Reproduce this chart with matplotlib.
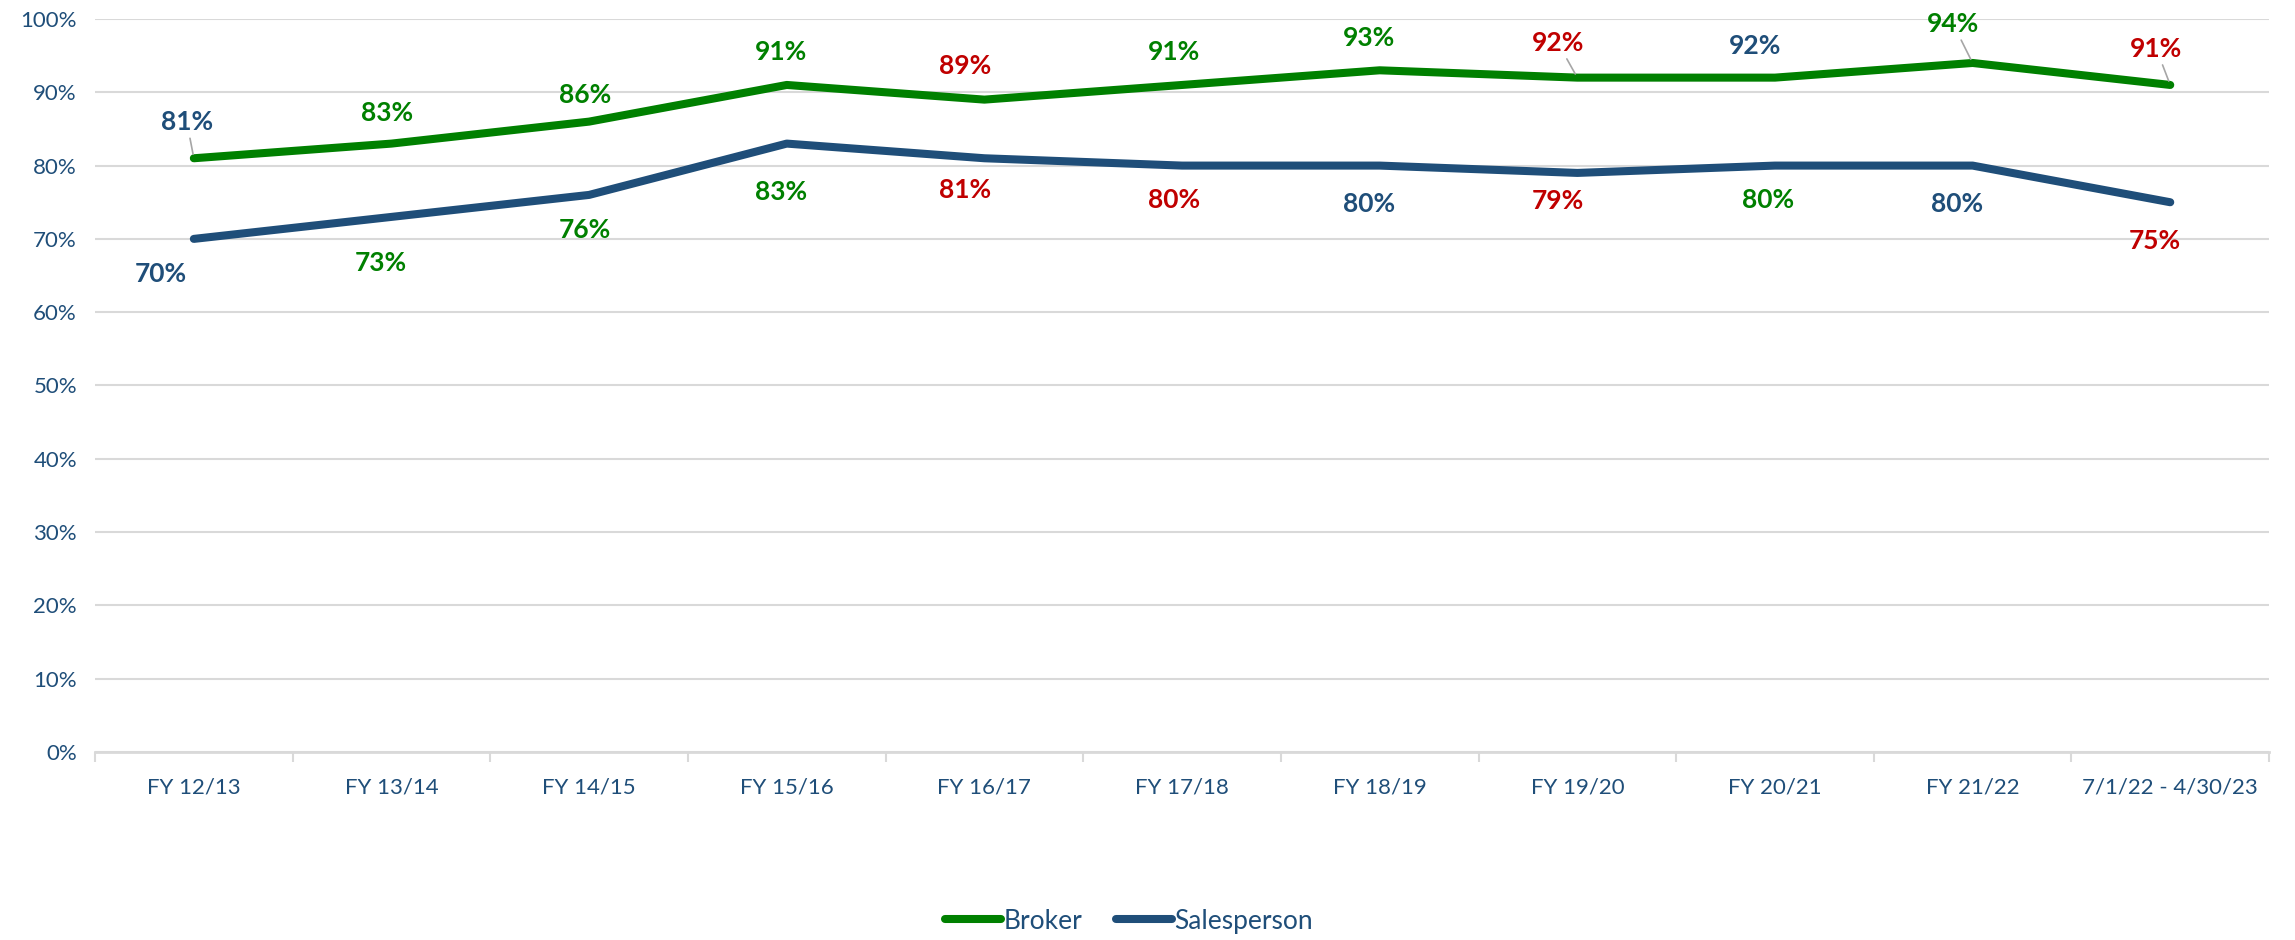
import matplotlib.pyplot as plt
from matplotlib.ticker import FixedLocator, FuncFormatter

plt.rcParams['font.family'] = ['Lato', 'DejaVu Sans']

years = ["FY 12/13", "FY 13/14", "FY 14/15", "FY 15/16", "FY 16/17", "FY 17/18",
         "FY 18/19", "FY 19/20", "FY 20/21", "FY 21/22", "7/1/22 - 4/30/23"]
broker = [81, 83, 86, 91, 89, 91, 93, 92, 92, 94, 91]
salesperson = [70, 73, 76, 83, 81, 80, 80, 79, 80, 80, 75]

GREEN = "#008000"
NAVY = "#1F4E79"
RED = "#C00000"
GRID = "#D9D9D9"

# label placement (points) relative to each point
broker_off = [(-5, 26), (-3, 22), (-3, 19), (-4, 24), (-14, 24), (-6, 24),
              (-8, 23), (-14, 25), (-14, 23), (-14, 28), (-10, 26)]
sales_off = [(-24, -25), (-8, -33), (-3, -25), (-4, -35), (-14, -23), (-6, -25),
             (-8, -28), (-14, -20), (-5, -25), (-11, -28), (-11, -28)]
broker_leader = [0, 7, 9, 10]


def change_colors(vals):
    # green = up, red = down, blue = flat / first
    cols = []
    for i, v in enumerate(vals):
        if i == 0 or v == vals[i - 1]:
            cols.append(NAVY)
        elif v > vals[i - 1]:
            cols.append(GREEN)
        else:
            cols.append(RED)
    return cols


fig = plt.figure(figsize=(22.95, 9.4), dpi=100)
ax = fig.add_axes([0.0414, 0.2, 0.9473, 0.7798])

x = list(range(len(years)))
l1, = ax.plot(x, broker, color=GREEN, lw=5.8, solid_capstyle='round',
              solid_joinstyle='round', zorder=3, label="Broker")
l2, = ax.plot(x, salesperson, color=NAVY, lw=5.8, solid_capstyle='round',
              solid_joinstyle='round', zorder=3, label="Salesperson")

for i, (v, c) in enumerate(zip(broker, change_colors(broker))):
    arrow = None
    if i in broker_leader:
        arrow = dict(arrowstyle='-', color='#A6A6A6', lw=1.2, shrinkA=1, shrinkB=3)
    ax.annotate(f"{v}%", (i, v), xytext=broker_off[i], textcoords='offset points',
                ha='center', va='center', fontsize=19, fontweight='bold', color=c,
                arrowprops=arrow, zorder=4)

for i, (v, c) in enumerate(zip(salesperson, change_colors(salesperson))):
    ax.annotate(f"{v}%", (i, v), xytext=sales_off[i], textcoords='offset points',
                ha='center', va='center', fontsize=19, fontweight='bold', color=c,
                zorder=4)

ax.set_xlim(-0.5, len(years) - 0.5)
ax.set_ylim(0, 100)
ax.set_yticks(range(0, 101, 10))
ax.yaxis.set_major_formatter(FuncFormatter(lambda v, p: f"{v:.0f}%"))
ax.grid(axis='y', color=GRID, lw=1.5, zorder=0)
ax.set_xticks(x)
ax.set_xticklabels(years)
ax.xaxis.set_minor_locator(FixedLocator([i - 0.5 for i in range(len(years) + 1)]))
ax.tick_params(axis='x', which='major', length=0, pad=18, labelsize=16, labelcolor=NAVY)
ax.tick_params(axis='x', which='minor', length=7, width=1.5, color=GRID)
ax.tick_params(axis='y', length=0, pad=13, labelsize=16, labelcolor=NAVY)
for s in ['top', 'right', 'left']:
    ax.spines[s].set_visible(False)
ax.spines['bottom'].set_color(GRID)
ax.spines['bottom'].set_linewidth(2)

leg = fig.legend(handles=[l1, l2], loc='center', bbox_to_anchor=(0.492, 0.02), ncol=2,
                 frameon=False, fontsize=19, handlelength=2.1, handletextpad=0.1,
                 columnspacing=1.3)
for t in leg.get_texts():
    t.set_color(NAVY)

fig.savefig("out.png", dpi=100)
